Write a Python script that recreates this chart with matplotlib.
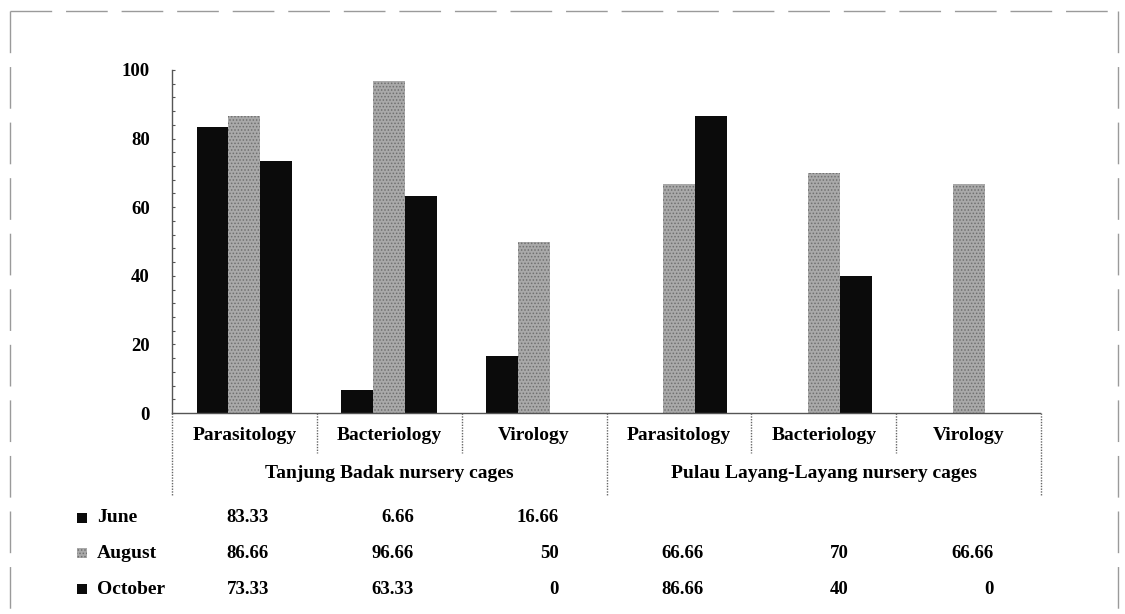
import numpy as np
import matplotlib
matplotlib.use("Agg")
import matplotlib.pyplot as plt
from matplotlib.patches import Rectangle
from matplotlib.lines import Line2D
from matplotlib.ticker import MultipleLocator

# ---- data ----
categories = ["Parasitology", "Bacteriology", "Virology",
              "Parasitology", "Bacteriology", "Virology"]
sites = ["Tanjung Badak nursery cages", "Pulau Layang-Layang nursery cages"]
months = ["June", "August", "October"]
june = [83.33, 6.66, 16.66, None, None, None]
august = [86.66, 96.66, 50, 66.66, 70, 66.66]
october = [73.33, 63.33, 0, 86.66, 40, 0]
yticks = [0, 20, 40, 60, 80, 100]

plt.rcParams['font.family'] = ['Liberation Serif', 'DejaVu Serif']
plt.rcParams['font.weight'] = 'bold'
plt.rcParams['hatch.linewidth'] = 0.7

W, H = 1125, 614
fig = plt.figure(figsize=(W / 100, H / 100), dpi=100)
fig.patch.set_facecolor('white')

# axes box in pixel units
left_px, right_px, top_px, bottom_px = 172, 1041, 70, 413
ax = fig.add_axes([left_px / W, 1 - bottom_px / H,
                   (right_px - left_px) / W, (bottom_px - top_px) / H])

def ay(py):
    """pixel row -> axes-fraction y"""
    return (bottom_px - py) / (bottom_px - top_px)

def fy(py):
    """pixel row -> figure-fraction y"""
    return 1 - py / H

dark = '#0b0b0b'
grey_face = '#a9a9a9'
grey_dots = '#6f6f6f'
styles = [
    dict(facecolor=dark, edgecolor=dark, linewidth=0),
    dict(facecolor=grey_face, edgecolor=grey_dots, hatch='.....', linewidth=0),
    dict(facecolor=dark, edgecolor=dark, linewidth=0),
]
series = [june, august, october]

x = np.arange(len(categories)) + 0.5
width = 0.22
for i, (vals, st) in enumerate(zip(series, styles)):
    v = np.array([np.nan if a is None else a for a in vals], dtype=float)
    ax.bar(x + (i - 1) * width, v, width, **st)

ax.set_xlim(0, len(categories))
ax.set_ylim(0, 100)
ax.set_yticks(yticks)
ax.set_yticklabels([str(t) for t in yticks], fontsize=13.5, fontweight='bold')
ax.yaxis.set_minor_locator(MultipleLocator(4))
ax.tick_params(axis='y', which='both', direction='in', length=2.5,
               width=0.8, color='#555555', pad=16)
ax.set_xticks([])

for s in ['top', 'right']:
    ax.spines[s].set_visible(False)
for s in ['left', 'bottom']:
    ax.spines[s].set_linestyle((0, (1, 1)))
    ax.spines[s].set_color('#555555')
    ax.spines[s].set_linewidth(1.0)

xt = ax.get_xaxis_transform()
sep_kw = dict(transform=xt, clip_on=False, ls=(0, (1, 1)), color='#666666', lw=1.0)
for xv in [1, 2, 4, 5]:
    ax.plot([xv, xv], [0, ay(453)], **sep_kw)
for xv in [0, 3, 6]:
    ax.plot([xv, xv], [0, ay(495)], **sep_kw)

# category and site labels
for xc, name in zip(x, categories):
    ax.text(xc, ay(436), name, transform=xt, ha='center', va='center',
            fontsize=14, fontweight='bold')
for k, site in enumerate(sites):
    ax.text(1.5 + 3 * k, ay(473), site, transform=xt, ha='center', va='center',
            fontsize=14, fontweight='bold')

# data table rows
row_py = [518, 553, 589]
for vals, py in zip(series, row_py):
    for xc, v in zip(x, vals):
        if v is None:
            continue
        ax.text(xc + 0.17, ay(py), f"{v:g}", transform=xt, ha='right',
                va='center', fontsize=13.5, fontweight='bold')

# legend keys in the table's row headers
for name, st, py in zip(months, styles, row_py):
    key = Rectangle((77 / W, fy(py + 5)), 10 / W, 10 / H, transform=fig.transFigure,
                    facecolor=st['facecolor'], edgecolor=st['edgecolor'],
                    hatch=st.get('hatch'), linewidth=0)
    fig.add_artist(key)
    fig.text(97 / W, fy(py), name, ha='left', va='center',
             fontsize=14, fontweight='bold')

# outer frame
frame_kw = dict(transform=fig.transFigure, color='#9a9a9a', lw=1.0,
                ls=(0, (30, 10)))
fig.add_artist(Line2D([10 / W, 1118 / W], [fy(11), fy(11)], **frame_kw))
fig.add_artist(Line2D([10 / W, 10 / W], [fy(11), 0], **frame_kw))
fig.add_artist(Line2D([1118 / W, 1118 / W], [fy(11), 0], **frame_kw))

fig.savefig("out.png", dpi=100)
